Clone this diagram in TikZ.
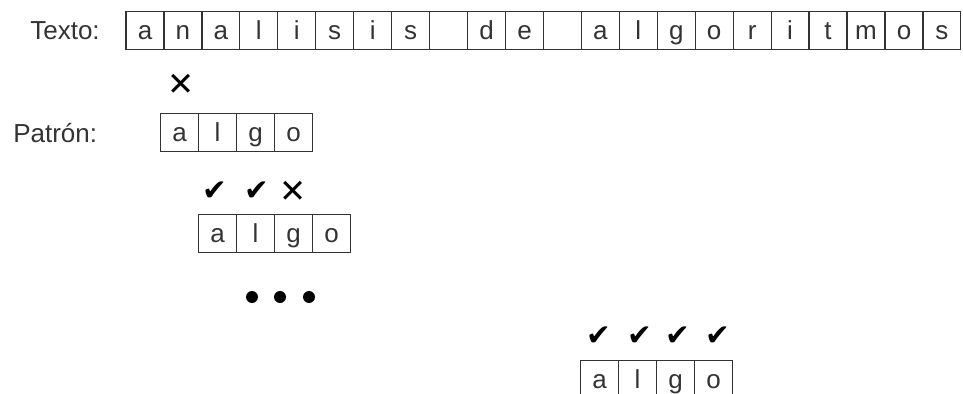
\documentclass[tikz,border=0pt]{standalone}
\usepackage{fontspec}
\setmainfont{Liberation Sans}
\newfontfamily\marksfont{DejaVu Sans}
\usepackage{tikz}
\usetikzlibrary{calc}
\definecolor{ink}{HTML}{333333}
\tikzstyle{c} = [rectangle, draw=ink, line width=0.85pt, inner sep=0pt, minimum width=27pt, minimum height=27pt, text height=15.5pt, text depth=2pt, text=ink, font=\fontsize{18.5}{22}\selectfont]
\tikzstyle{l} = [anchor=base west, inner sep=0pt, text=ink, font=\fontsize{18.5}{22}\selectfont]
\tikzstyle{tick} = [inner sep=0pt, text=black, font=\marksfont\fontsize{21}{24}\selectfont]
\tikzstyle{cross} = [inner sep=0pt, text=black, font=\marksfont\fontsize{23}{26}\selectfont]

\begin{document}
\begin{tikzpicture}[x=0.025cm, y=-0.025cm]
				\useasboundingbox (0,0) rectangle (963,394);
				\clip (0,0) rectangle (963,394);
				\node[l] (texto) at (30,39.5) {Texto:};
				\node[l] (patron) at (13,143) {Patrón:};
				%%%%%%%%%%%%%%%%%%%%%%%%%%%%%%%%%%
				\node[c] (t0) at (145.0,30.5) {a};
				\node[c] (t1) at (182.9,30.5) {n};
				\node[c] (t2) at (220.9,30.5) {a};
				\node[c] (t3) at (258.8,30.5) {l};
				\node[c] (t4) at (296.8,30.5) {i};
				\node[c] (t5) at (334.7,30.5) {s};
				\node[c] (t6) at (372.7,30.5) {i};
				\node[c] (t7) at (410.6,30.5) {s};
				\node[c] (t8) at (448.6,30.5) {};
				\node[c] (t9) at (486.5,30.5) {d};
				\node[c] (t10) at (524.5,30.5) {e};
				\node[c] (t11) at (562.4,30.5) {};
				\node[c] (t12) at (600.4,30.5) {a};
				\node[c] (t13) at (638.3,30.5) {l};
				\node[c] (t14) at (676.3,30.5) {g};
				\node[c] (t15) at (714.2,30.5) {o};
				\node[c] (t16) at (752.2,30.5) {r};
				\node[c] (t17) at (790.1,30.5) {i};
				\node[c] (t18) at (828.1,30.5) {t};
				\node[c] (t19) at (866.0,30.5) {m};
				\node[c] (t20) at (904.0,30.5) {o};
				\node[c] (t21) at (941.9,30.5) {s};
				%%%%%%%%%%%%%%%%%%%%%%%%%%%%%%%%%%
				\node[c] (pa1) at (179.5,132.5) {a};
				\node[c] (pl1) at (217.5,132.5) {l};
				\node[c] (pg1) at (255.5,132.5) {g};
				\node[c] (po1) at (293.5,132.5) {o};
				\node[cross] at ($(pa1)+(2,-48)$) {✕};
				%%%%%%%%%%%%%%%%%%%%%%%%%%%%%%%%%%
				\node[c] (pa2) at (217.5,233.5) {a};
				\node[c] (pl2) at (255.5,233.5) {l};
				\node[c] (pg2) at (293.5,233.5) {g};
				\node[c] (po2) at (331.5,233.5) {o};
				\node[tick] at ($(pa2)+(-3,-42)$) {✔};
				\node[tick] at ($(pl2)+(1,-42)$) {✔};
				\node[cross] at ($(pg2)+(0,-42)$) {✕};
				%%%%%%%%%%%%%%%%%%%%%%%%%%%%%%%%%%
				\fill (252,297) circle[radius=6];
				\fill (280,297) circle[radius=6];
				\fill (309,297) circle[radius=6];
				%%%%%%%%%%%%%%%%%%%%%%%%%%%%%%%%%%
				\node[c] (pa3) at (599.5,379.5) {a};
				\node[c] (pl3) at (637.5,379.5) {l};
				\node[c] (pg3) at (675.5,379.5) {g};
				\node[c] (po3) at (713.5,379.5) {o};
				\node[tick] at ($(pa3)+(-1,-43)$) {✔};
				\node[tick] at ($(pl3)+(2,-43)$) {✔};
				\node[tick] at ($(pg3)+(2,-43)$) {✔};
				\node[tick] at ($(po3)+(4,-43)$) {✔};
\end{tikzpicture}
\end{document}
